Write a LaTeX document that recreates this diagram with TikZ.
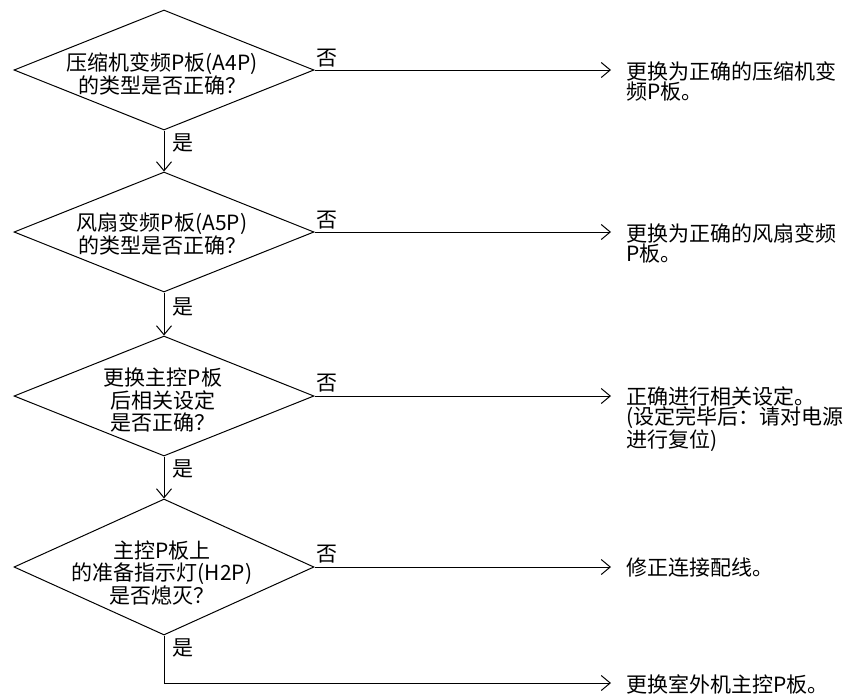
\documentclass[tikz,border=0pt]{standalone}
\usepackage{fontspec}
\newfontfamily\cjk{Noto Sans CJK SC}
\usetikzlibrary{shapes.geometric,arrows.meta}
\begin{document}
\begin{tikzpicture}[x=1pt,y=-1pt,
  line width=1pt,
  dia/.style={draw,diamond,inner sep=0pt,minimum width=300pt,minimum height=120pt},
  diatext/.style={font=\cjk\fontsize{21}{22.5}\selectfont,align=center,inner sep=0pt},
  restext/.style={font=\cjk\fontsize{21}{20.5}\selectfont,align=left,inner sep=0pt,anchor=north west},
  lab/.style={font=\cjk\fontsize{21}{22}\selectfont,inner sep=0pt},
  arr/.style={-{Straight Barb[length=9pt,width=15pt,line width=1pt]}}]
\fill[white] (0,0) rectangle (853,694);
\useasboundingbox (0,0) rectangle (853,694);

% diamonds
\node[dia] (d1) at (164,70) {};
\node[dia] (d2) at (164,232) {};
\node[dia] (d3) at (164,396) {};
\node[dia,minimum height=136pt] (d4) at (164,567) {};

\node[diatext] (t1) at (162,74) {压缩机变频P板(A4P)\\的类型是否正确？};
\node[diatext] (t2) at (162,234) {风扇变频P板(A5P)\\的类型是否正确？};
\node[diatext] (t3) at (163,400) {更换主控P板\\后相关设定\\是否正确？};
\node[diatext] (t4) at (162,573) {主控P板上\\的准备指示灯(H2P)\\是否熄灭？};

% right-hand targets
\coordinate (e1) at (611,70);
\coordinate (e2) at (611,232);
\coordinate (e3) at (611,396);
\coordinate (e4) at (611,567);
\coordinate (c5) at (164,683);
\coordinate (e5) at (611,683);

\node[restext] (r1) at (626,61) {更换为正确的压缩机变\\频P板。};
\node[restext] (r2) at (626,223) {更换为正确的风扇变频\\P板。};
\node[restext] (r3) at (626,386) {正确进行相关设定。\\(设定完毕后：请对电源\\进行复位)};
\node[restext] (r4) at (626,557) {修正连接配线。};
\node[restext] (r5) at (626,674) {更换室外机主控P板。};

% connectors
\draw[arr] (d1.east) -- (e1);
\draw[arr] (d2.east) -- (e2);
\draw[arr] (d3.east) -- (e3);
\draw[arr] (d4.east) -- (e4);
\draw[arr] (d1.south) -- (d2.north);
\draw[arr] (d2.south) -- (d3.north);
\draw[arr] (d3.south) -- (d4.north);
\draw[arr] (d4.south) -- (c5) -- (e5);

% labels
\node[lab] (n1) at (327,58) {否};
\node[lab] (n2) at (327,220) {否};
\node[lab] (n3) at (327,383) {否};
\node[lab] (n4) at (327,554) {否};
\node[lab] (y1) at (183,143) {是};
\node[lab] (y2) at (183,307) {是};
\node[lab] (y3) at (183,469) {是};
\node[lab] (y4) at (183,648) {是};
\end{tikzpicture}
\end{document}
